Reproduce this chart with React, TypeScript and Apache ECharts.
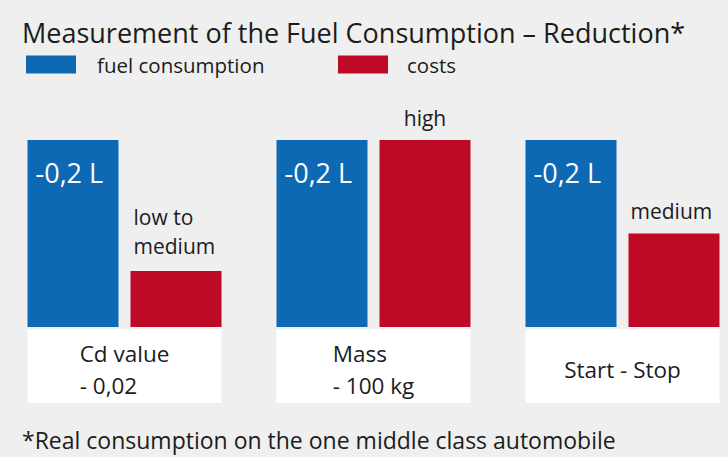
import React, { useEffect, useRef } from "react";
import * as echarts from "echarts";

const titleText = "Measurement of the Fuel Consumption – Reduction*";
const footnoteText = "*Real consumption on the one middle class automobile";
const seriesNames = ["fuel consumption", "costs"];
const categories = ["Cd value\n- 0,02", "Mass\n- 100 kg", "Start - Stop"];
const fuelReduction = [0.2, 0.2, 0.2]; // litres
const costLevels = [0.3, 1.0, 0.5]; // relative cost level
const costLabels = ["low to\nmedium", "high", "medium"];

const FONT = '"Open Sans", sans-serif';
const BLUE = "#0d69b3";
const RED = "#be0a27";
const TEXT = "#1c1c1c";
const BG = "#efefef";
const BAR_W = 91;
const BAR_GAP = 12;
const BAND_PX = 249;
const CHART_W = 728;

function measureWidth(text: string, font: string): number {
  const c = document.createElement("canvas").getContext("2d");
  if (!c) return 0;
  c.font = font;
  return Math.max(...text.split("\n").map((l) => c.measureText(l).width));
}

export default function App() {
  const ref = useRef<HTMLDivElement>(null);
  useEffect(() => {
    if (!ref.current) return;
    const chart = echarts.init(ref.current, undefined, { renderer: "svg" });
    const boxFont = `22.5px ${FONT}`;
    const costLabelStyle = [
      { position: [3, -39], align: "left" },
      { position: [BAR_W / 2, -22], align: "center" },
      { position: [2, -23], align: "left" },
    ];
    const xMin = -0.5;
    const xMax = xMin + CHART_W / BAND_PX;
    chart.setOption({
      animation: false,
      backgroundColor: BG,
      title: [
        {
          text: titleText,
          left: 22,
          top: 19,
          padding: 0,
          textStyle: { fontFamily: FONT, fontSize: 27, fontWeight: "normal", color: TEXT },
        },
        {
          text: footnoteText,
          left: 22,
          top: 428,
          padding: 0,
          textStyle: { fontFamily: FONT, fontSize: 23, fontWeight: "normal", color: TEXT },
        },
      ],
      legend: [
        {
          data: [seriesNames[0]],
          left: 26,
          top: 54,
          padding: 0,
          icon: "rect",
          itemWidth: 50,
          itemHeight: 18,
          selectedMode: false,
          textStyle: { fontFamily: FONT, fontSize: 20.5, color: TEXT, padding: [0, 0, 0, 16] },
        },
        {
          data: [seriesNames[1]],
          left: 338,
          top: 54,
          padding: 0,
          icon: "rect",
          itemWidth: 50,
          itemHeight: 18,
          selectedMode: false,
          textStyle: { fontFamily: FONT, fontSize: 20.5, color: TEXT, padding: [0, 0, 0, 14] },
        },
      ],
      grid: { left: 0, top: 140, width: CHART_W, height: 187 },
      xAxis: { type: "value", min: xMin, max: xMax, show: false },
      yAxis: [
        { type: "value", min: 0, max: 0.2, show: false },
        { type: "value", min: 0, max: 1, show: false },
      ],
      series: [
        {
          name: seriesNames[0],
          type: "bar",
          yAxisIndex: 0,
          barWidth: BAR_W,
          barGap: `${(BAR_GAP / BAR_W) * 100}%`,
          itemStyle: { color: BLUE },
          data: fuelReduction.map((v, i) => [i, v]),
          label: {
            show: true,
            position: [8, 32],
            align: "left",
            verticalAlign: "middle",
            color: "#ffffff",
            fontFamily: FONT,
            fontSize: 27,
            formatter: (p: any) => `-${String(p.value[1]).replace(".", ",")} L`,
          },
        },
        {
          name: seriesNames[1],
          type: "bar",
          yAxisIndex: 1,
          barWidth: BAR_W,
          barGap: `${(BAR_GAP / BAR_W) * 100}%`,
          itemStyle: { color: RED },
          data: costLevels.map((v, i) => ({
            value: [i, v],
            label: {
              show: true,
              position: costLabelStyle[i].position,
              align: costLabelStyle[i].align,
              verticalAlign: "middle",
              lineHeight: 29,
              color: TEXT,
              fontFamily: FONT,
              fontSize: 21,
              formatter: costLabels[i],
            },
          })),
        },
        {
          type: "custom",
          yAxisIndex: 0,
          clip: false,
          silent: true,
          data: categories.map((_, i) => [i, 0]),
          encode: { x: 0, y: 1 },
          renderItem: (params: any, api: any) => {
            const idx = api.value(0);
            const [cx, y0] = api.coord([idx, 0]);
            const groupW = BAR_W * 2 + BAR_GAP;
            const text = categories[idx];
            const w = measureWidth(text, boxFont);
            return {
              type: "group",
              children: [
                {
                  type: "rect",
                  shape: { x: cx - groupW / 2, y: y0 + 2, width: groupW, height: 74 },
                  style: { fill: "#ffffff" },
                },
                {
                  type: "text",
                  x: cx - w / 2,
                  y: y0 + 42,
                  style: {
                    text,
                    font: boxFont,
                    fill: TEXT,
                    align: "left",
                    verticalAlign: "middle",
                    lineHeight: 32,
                  },
                },
              ],
            };
          },
        },
      ],
    });
    return () => chart.dispose();
  }, []);
  return (
    <div
      ref={ref}
      style={{ position: "fixed", left: 0, top: 0, width: CHART_W, height: 457 }}
    />
  );
}
